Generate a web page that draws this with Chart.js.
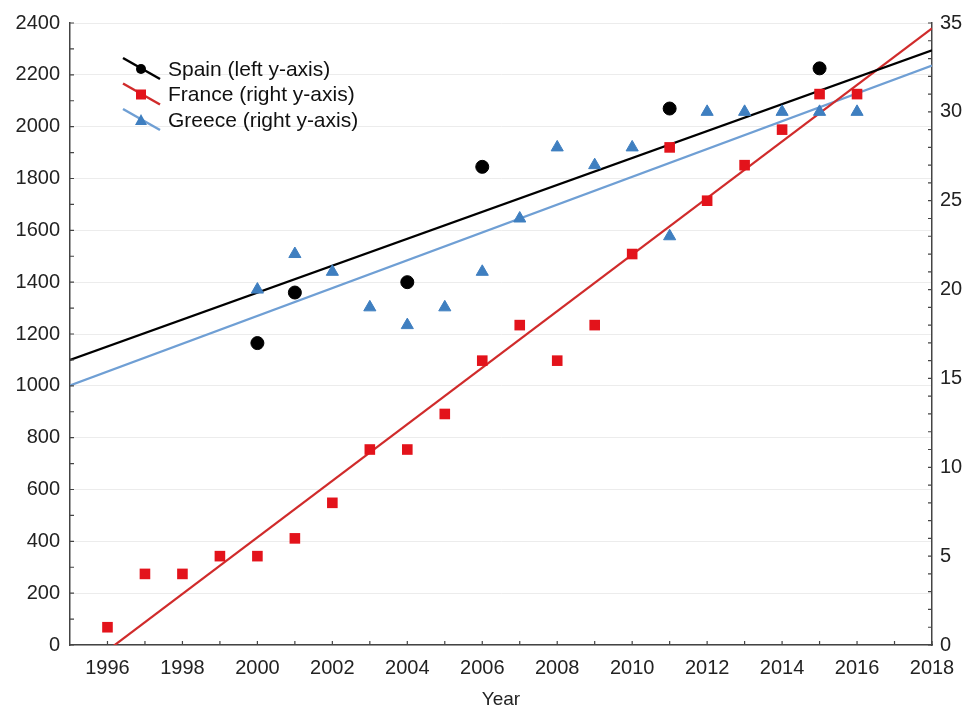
<!DOCTYPE html>
<html>
<head>
<meta charset="utf-8">
<script src="https://cdn.jsdelivr.net/npm/chart.js@4.4.1/dist/chart.umd.min.js"></script>
<style>
  html, body { margin: 0; padding: 0; background: #fff; }
  #wrap { width: 966px; height: 711px; }
</style>
</head>
<body>
<div id="wrap"><canvas id="chart"></canvas></div>
<script>
// Datos
const spainYears = [2000, 2001, 2004, 2006, 2011, 2015];
const spainValues = [1165, 1360, 1400, 1845, 2070, 2225];

const franceYears = [1996, 1997, 1998, 1999, 2000, 2001, 2002, 2003, 2004, 2005, 2006,
                     2007, 2008, 2009, 2010, 2011, 2012, 2013, 2014, 2015, 2016];
const franceValues = [1, 4, 4, 5, 5, 6, 8, 11, 11, 13, 16, 18, 16, 18, 22, 28, 25, 27, 29, 31, 31];

const greeceYears = [2000, 2001, 2002, 2003, 2004, 2005, 2006, 2007, 2008, 2009, 2010,
                     2011, 2012, 2013, 2014, 2015, 2016];
const greeceValues = [20, 22, 21, 19, 18, 19, 21, 24, 28, 27, 28, 23, 30, 30, 30, 30, 30];

// Rectas de tendencia (extremos leídos)
const trendYears = [1995, 2018];
const spainTrend = [1100, 2295];
const franceTrend = [-1.9, 34.7];
const greeceTrend = [14.6, 32.6];

const xTicks = [1996, 1998, 2000, 2002, 2004, 2006, 2008, 2010, 2012, 2014, 2016, 2018];
const leftTicks = [0, 200, 400, 600, 800, 1000, 1200, 1400, 1600, 1800, 2000, 2200, 2400];
const rightTicks = [0, 5, 10, 15, 20, 25, 30, 35];

const legendLabels = ['Spain (left y-axis)', 'France (right y-axis)', 'Greece (right y-axis)'];

function pts(xs, ys) {
    return xs.map((x, i) => ({ x: x, y: ys[i] }));
}

const FONT = "'Liberation Sans', Arial, sans-serif";
const BLACK = '#000000';
const RED = '#e3131b';
const RED_LINE = '#d02b2b';
const BLUE = '#3f7fc0';
const BLUE_LINE = '#6f9fd4';

// Marcas internas de los ejes (mayores y menores)
const innerTicks = {
    id: 'innerTicks',
    afterDraw(chart) {
        const ctx = chart.ctx;
        const a = chart.chartArea;
        const x = chart.scales.x, yl = chart.scales.y, yr = chart.scales.y2;
        ctx.save();
        ctx.strokeStyle = '#444';
        ctx.lineWidth = 1.2;
        ctx.beginPath();
        for (let v = 1996; v <= 2018; v++) {
            const px = x.getPixelForValue(v);
            ctx.moveTo(px, a.bottom);
            ctx.lineTo(px, a.bottom - 4);
        }
        for (let v = 0; v <= 2400; v += 100) {
            const py = yl.getPixelForValue(v);
            ctx.moveTo(a.left, py);
            ctx.lineTo(a.left + 4, py);
        }
        for (let v = 0; v <= 35; v += 1) {
            const py = yr.getPixelForValue(v);
            ctx.moveTo(a.right, py);
            ctx.lineTo(a.right - 4, py);
        }
        ctx.stroke();
        ctx.restore();
    }
};

// Leyenda con línea inclinada y marcador
const customLegend = {
    id: 'customLegend',
    afterDraw(chart) {
        const ctx = chart.ctx;
        const rows = [
            { line: BLACK, marker: BLACK, style: 'circle' },
            { line: RED_LINE, marker: RED, style: 'rect' },
            { line: BLUE_LINE, marker: BLUE, style: 'triangle' }
        ];
        ctx.save();
        rows.forEach((r, i) => {
            const cy = 70 + i * 25.5;
            ctx.strokeStyle = r.line;
            ctx.lineWidth = 2.5;
            ctx.beginPath();
            ctx.moveTo(123, cy - 12);
            ctx.lineTo(160, cy + 9);
            ctx.stroke();
            ctx.fillStyle = r.marker;
            ctx.beginPath();
            if (r.style === 'circle') {
                ctx.arc(141, cy - 1, 5, 0, Math.PI * 2);
            } else if (r.style === 'rect') {
                ctx.rect(136, cy - 6, 10, 10);
            } else {
                ctx.moveTo(141, cy - 7);
                ctx.lineTo(147, cy + 4);
                ctx.lineTo(135, cy + 4);
                ctx.closePath();
            }
            ctx.fill();
            ctx.fillStyle = '#111';
            ctx.font = '21px ' + FONT;
            ctx.textBaseline = 'middle';
            ctx.fillText(legendLabels[i], 168, cy);
        });
        ctx.restore();
    }
};

const ctx = document.getElementById('chart').getContext('2d');
const chart = new Chart(ctx, {
    type: 'scatter',
    data: {
        datasets: [
            {
                label: 'Spain',
                data: pts(spainYears, spainValues),
                yAxisID: 'y',
                pointStyle: 'circle',
                pointRadius: 6.5,
                backgroundColor: BLACK,
                borderColor: BLACK,
                showLine: false
            },
            {
                label: 'France',
                data: pts(franceYears, franceValues),
                yAxisID: 'y2',
                pointStyle: 'rect',
                pointRadius: 7.5,
                backgroundColor: RED,
                borderColor: RED,
                borderWidth: 0,
                showLine: false
            },
            {
                label: 'Greece',
                data: pts(greeceYears, greeceValues),
                yAxisID: 'y2',
                pointStyle: 'triangle',
                pointRadius: 7,
                backgroundColor: BLUE,
                borderColor: BLUE,
                showLine: false
            },
            {
                label: 'Spain trend',
                data: pts(trendYears, spainTrend),
                yAxisID: 'y',
                showLine: true,
                pointRadius: 0,
                borderColor: BLACK,
                borderWidth: 2.2
            },
            {
                label: 'France trend',
                data: pts(trendYears, franceTrend),
                yAxisID: 'y2',
                showLine: true,
                pointRadius: 0,
                borderColor: RED_LINE,
                borderWidth: 2.2
            },
            {
                label: 'Greece trend',
                data: pts(trendYears, greeceTrend),
                yAxisID: 'y2',
                showLine: true,
                pointRadius: 0,
                borderColor: BLUE_LINE,
                borderWidth: 2.2
            }
        ]
    },
    options: {
        responsive: true,
        maintainAspectRatio: false,
        animation: false,
        layout: {
            padding: { top: 23, right: 0, left: 0, bottom: 0 }
        },
        scales: {
            x: {
                type: 'linear',
                min: 1995,
                max: 2018,
                afterBuildTicks: (scale) => {
                    scale.ticks = xTicks.map(v => ({ value: v }));
                },
                afterFit: (scale) => { scale.height = 66; },
                grid: { display: false, drawTicks: false },
                border: { display: true, color: '#444', width: 1.5 },
                ticks: {
                    color: '#222',
                    font: { family: FONT, size: 20 },
                    padding: 11,
                    maxRotation: 0,
                    callback: (v) => String(v)
                },
                title: {
                    display: true,
                    text: 'Year',
                    color: '#222',
                    font: { family: FONT, size: 19 },
                    padding: { top: 0, bottom: 0 }
                }
            },
            y: {
                position: 'left',
                min: 0,
                max: 2400,
                afterBuildTicks: (scale) => {
                    scale.ticks = leftTicks.map(v => ({ value: v }));
                },
                afterFit: (scale) => { scale.width = 70; },
                grid: { color: '#ececec', lineWidth: 1, drawTicks: false },
                border: { display: true, color: '#444', width: 1.5 },
                ticks: {
                    color: '#222',
                    font: { family: FONT, size: 20 },
                    padding: 10,
                    callback: (v) => String(v)
                }
            },
            y2: {
                position: 'right',
                min: 0,
                max: 35,
                afterBuildTicks: (scale) => {
                    scale.ticks = rightTicks.map(v => ({ value: v }));
                },
                afterFit: (scale) => { scale.width = 34; },
                grid: { display: false, drawTicks: false },
                border: { display: true, color: '#444', width: 1.5 },
                ticks: {
                    color: '#222',
                    font: { family: FONT, size: 20 },
                    padding: 8,
                    callback: (v) => String(v)
                }
            }
        },
        plugins: {
            legend: { display: false },
            tooltip: { enabled: false }
        }
    },
    plugins: [innerTicks, customLegend]
});
</script>
</body>
</html>
